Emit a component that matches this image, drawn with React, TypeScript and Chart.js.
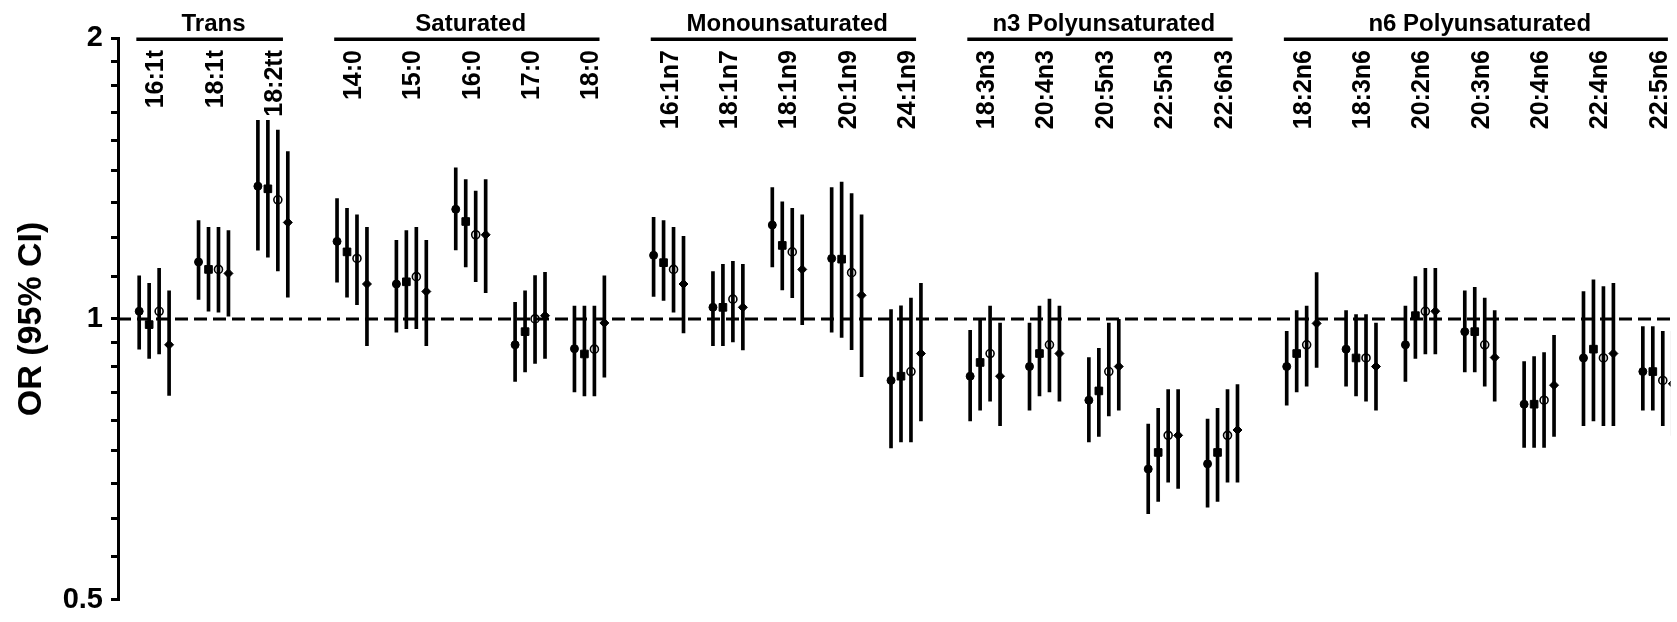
import { useEffect, useRef } from 'react';
import { Chart, registerables } from 'chart.js';

Chart.register(...registerables);

// Fatty-acid groups and the categories belonging to each
const GROUPS = ['Trans', 'Saturated', 'Monounsaturated', 'n3 Polyunsaturated', 'n6 Polyunsaturated'];
const CATEGORIES = [
  '16:1t', '18:1t', '18:2tt',
  '14:0', '15:0', '16:0', '17:0', '18:0',
  '16:1n7', '18:1n7', '18:1n9', '20:1n9', '24:1n9',
  '18:3n3', '20:4n3', '20:5n3', '22:5n3', '22:6n3',
  '18:2n6', '18:3n6', '20:2n6', '20:3n6', '20:4n6', '22:4n6', '22:5n6',
];
const CATEGORY_GROUP = [0, 0, 0, 1, 1, 1, 1, 1, 2, 2, 2, 2, 2, 3, 3, 3, 3, 3, 4, 4, 4, 4, 4, 4, 4];

// Odds ratios with 95% confidence limits, four models per fatty acid
const MODEL1_OR = [1.019, 1.151, 1.388, 1.211, 1.090, 1.311, 0.938, 0.929, 1.170, 1.029, 1.261, 1.161, 0.859, 0.868, 0.889, 0.818, 0.690, 0.699, 0.889, 0.928, 0.938, 0.969, 0.810, 0.908, 0.878];
const MODEL1_LO = [0.928, 1.049, 1.185, 1.095, 0.968, 1.186, 0.857, 0.835, 1.057, 0.936, 1.137, 0.968, 0.727, 0.777, 0.798, 0.738, 0.618, 0.628, 0.808, 0.847, 0.857, 0.877, 0.728, 0.768, 0.798];
const MODEL1_HI = [1.112, 1.275, 1.633, 1.346, 1.214, 1.452, 1.042, 1.032, 1.285, 1.124, 1.383, 1.383, 1.023, 0.972, 0.990, 0.909, 0.771, 0.781, 0.970, 1.021, 1.032, 1.072, 0.900, 1.070, 0.981];

const MODEL2_OR = [0.986, 1.130, 1.379, 1.180, 1.096, 1.272, 0.969, 0.917, 1.149, 1.029, 1.199, 1.159, 0.868, 0.898, 0.918, 0.837, 0.719, 0.719, 0.918, 0.908, 1.008, 0.969, 0.810, 0.928, 0.878];
const MODEL2_LO = [0.907, 1.019, 1.165, 1.055, 0.976, 1.137, 0.877, 0.827, 1.047, 0.936, 1.074, 0.955, 0.738, 0.798, 0.827, 0.748, 0.637, 0.637, 0.835, 0.827, 0.907, 0.877, 0.728, 0.777, 0.798];
const MODEL2_HI = [1.092, 1.254, 1.633, 1.314, 1.244, 1.411, 1.072, 1.032, 1.275, 1.144, 1.335, 1.402, 1.033, 0.999, 1.032, 0.930, 0.802, 0.802, 1.021, 1.011, 1.110, 1.081, 0.911, 1.101, 0.981];

const MODEL3_OR = [1.019, 1.130, 1.342, 1.161, 1.110, 1.231, 1.000, 0.928, 1.130, 1.050, 1.180, 1.121, 0.878, 0.918, 0.938, 0.878, 0.750, 0.750, 0.938, 0.908, 1.019, 0.938, 0.818, 0.908, 0.859];
const MODEL3_LO = [0.917, 1.017, 1.126, 1.036, 0.976, 1.096, 0.896, 0.827, 1.017, 0.945, 1.054, 0.927, 0.738, 0.816, 0.835, 0.787, 0.668, 0.668, 0.847, 0.816, 0.917, 0.847, 0.728, 0.768, 0.768];
const MODEL3_HI = [1.133, 1.254, 1.594, 1.293, 1.254, 1.371, 1.113, 1.032, 1.254, 1.153, 1.314, 1.363, 1.053, 1.032, 1.050, 0.990, 0.840, 0.840, 1.032, 1.011, 1.133, 1.053, 0.920, 1.083, 0.970];

const MODEL4_OR = [0.938, 1.119, 1.269, 1.090, 1.070, 1.231, 1.008, 0.990, 1.090, 1.029, 1.130, 1.060, 0.918, 0.868, 0.918, 0.889, 0.750, 0.760, 0.989, 0.889, 1.019, 0.909, 0.849, 0.918, 0.852];
const MODEL4_LO = [0.828, 1.007, 1.055, 0.936, 0.936, 1.067, 0.907, 0.866, 0.966, 0.926, 0.986, 0.867, 0.777, 0.768, 0.816, 0.798, 0.658, 0.668, 0.887, 0.798, 0.917, 0.816, 0.748, 0.768, 0.750];
const MODEL4_HI = [1.072, 1.244, 1.512, 1.254, 1.214, 1.411, 1.122, 1.112, 1.226, 1.144, 1.293, 1.293, 1.092, 0.990, 1.032, 0.999, 0.840, 0.850, 1.121, 0.990, 1.133, 1.021, 0.960, 1.092, 0.970];

// Log-scale ticks (minor ticks at ninths between the labelled values)
const Y_TICKS = [0.5, 0.5556, 0.6111, 0.6667, 0.7222, 0.7778, 0.8333, 0.8889, 0.9444, 1,
  1.1111, 1.2222, 1.3333, 1.4444, 1.5556, 1.6667, 1.7778, 1.8889, 2];
const Y_LABELED = [0.5, 1, 2];

// Horizontal layout (in category units)
const GROUP_GAP = 1 / 3;
const SERIES_STEP = 0.168;
const X_MIN = -0.609;
const X_MAX = 25.549;

const FONT = '"Liberation Sans", Arial, Helvetica, sans-serif';

const categoryPos = (i: number) => i + CATEGORY_GROUP[i] * GROUP_GAP;

const SERIES = [
  { or: MODEL1_OR, lo: MODEL1_LO, hi: MODEL1_HI, style: 'circle', radius: 4, fill: '#000', border: 1 },
  { or: MODEL2_OR, lo: MODEL2_LO, hi: MODEL2_HI, style: 'rect', radius: 5.4, fill: '#000', border: 1 },
  { or: MODEL3_OR, lo: MODEL3_LO, hi: MODEL3_HI, style: 'circle', radius: 4, fill: 'rgba(0,0,0,0)', border: 1.6 },
  { or: MODEL4_OR, lo: MODEL4_LO, hi: MODEL4_HI, style: 'rectRot', radius: 4.5, fill: '#000', border: 1 },
];

const headerPlugin = {
  id: 'groupHeaders',
  afterDraw(chart: any) {
    const { ctx } = chart;
    const xs = chart.scales.x;
    ctx.save();
    ctx.fillStyle = '#000';
    ctx.strokeStyle = '#000';

    // vertical category names
    ctx.font = `bold 25px ${FONT}`;
    CATEGORIES.forEach((name, i) => {
      const px = xs.getPixelForValue(categoryPos(i));
      ctx.save();
      ctx.translate(px + 9, 50);
      ctx.rotate(-Math.PI / 2);
      ctx.textAlign = 'right';
      ctx.textBaseline = 'alphabetic';
      ctx.fillText(name, 0, 0);
      ctx.restore();
    });

    // group titles with underline
    ctx.font = `bold 24px ${FONT}`;
    ctx.textAlign = 'center';
    ctx.textBaseline = 'alphabetic';
    ctx.lineWidth = 3.5;
    GROUPS.forEach((g, gi) => {
      const idx = CATEGORY_GROUP.map((v, i) => (v === gi ? i : -1)).filter((i) => i >= 0);
      const first = categoryPos(idx[0]);
      const last = categoryPos(idx[idx.length - 1]);
      const x1 = xs.getPixelForValue(first - 0.3);
      const x2 = xs.getPixelForValue(last + 0.17);
      ctx.beginPath();
      ctx.moveTo(x1, 39.3);
      ctx.lineTo(x2, 39.3);
      ctx.stroke();
      ctx.fillText(g, (xs.getPixelForValue(first) + xs.getPixelForValue(last)) / 2, 30.5);
    });
    ctx.restore();
  },
};

export default function App() {
  const canvasRef = useRef<HTMLCanvasElement | null>(null);

  useEffect(() => {
    document.body.style.margin = '0';
    const canvas = canvasRef.current;
    if (!canvas) return;

    const datasets: any[] = [];

    SERIES.forEach((s, si) => {
      const off = (si - 1.5) * SERIES_STEP;
      datasets.push({
        type: 'bar',
        data: CATEGORIES.map((_, i) => ({ x: categoryPos(i) + off, y: [s.lo[i], s.hi[i]] })),
        backgroundColor: '#000',
        borderWidth: 0,
        barThickness: 3,
        grouped: false,
        order: 2,
      });
      datasets.push({
        type: 'scatter',
        data: CATEGORIES.map((_, i) => ({ x: categoryPos(i) + off, y: s.or[i] })),
        pointStyle: s.style,
        pointRadius: s.radius,
        backgroundColor: s.fill,
        borderColor: '#000',
        borderWidth: s.border,
        showLine: false,
        order: 1,
      });
    });

    // reference line at OR = 1
    datasets.push({
      type: 'line',
      data: [{ x: X_MIN, y: 1 }, { x: X_MAX, y: 1 }],
      borderColor: '#000',
      borderWidth: 3,
      borderDash: [13, 6],
      pointRadius: 0,
      order: 3,
    });

    const chart = new Chart(canvas, {
      type: 'bar',
      data: { datasets },
      options: {
        animation: false,
        responsive: false,
        events: [],
        layout: { padding: { top: 38.3, bottom: 15.3, left: 0, right: 0 } },
        plugins: { legend: { display: false }, tooltip: { enabled: false } },
        scales: {
          x: { type: 'linear', min: X_MIN, max: X_MAX, display: false, offset: false },
          y: {
            type: 'logarithmic',
            position: 'left',
            min: 0.5,
            max: 2,
            afterBuildTicks: (scale: any) => {
              scale.ticks = Y_TICKS.map((v) => ({ value: v }));
            },
            afterFit: (scale: any) => {
              scale.width = 118;
            },
            border: { display: true, color: '#000', width: 3 },
            grid: {
              display: true,
              drawOnChartArea: false,
              drawTicks: true,
              tickLength: 7,
              lineWidth: 3,
              color: '#000',
            },
            ticks: {
              autoSkip: false,
              padding: 8,
              color: '#000',
              font: { family: FONT, size: 29, weight: 'bold', lineHeight: 1 },
              callback: (v: any) => (Y_LABELED.includes(Number(v)) ? String(v) : ''),
            },
            title: {
              display: true,
              text: 'OR (95% CI)',
              color: '#000',
              font: { family: FONT, size: 34, weight: 'bold' },
              padding: { top: 11, bottom: 0 },
            },
          },
        },
      } as any,
      plugins: [headerPlugin],
    });

    return () => chart.destroy();
  }, []);

  return <canvas ref={canvasRef} width={1677} height={622} style={{ display: 'block' }} />;
}
